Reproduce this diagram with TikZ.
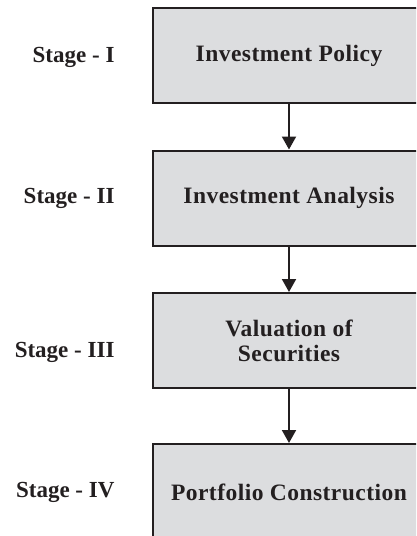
\documentclass[tikz,border=0pt]{standalone}
\usepackage{fontspec}
\setmainfont{Liberation Serif}
\newfontfamily\boxfont{Liberation Serif}[LetterSpace=2]
\usetikzlibrary{arrows.meta}
\definecolor{boxgray}{HTML}{DCDDDF}
\definecolor{ink}{HTML}{231F20}
\begin{document}
\begin{tikzpicture}[x=1pt, y=-1pt, >={Triangle[width=14pt,length=13pt]},
		stage/.style={anchor=east, text=ink, font=\bfseries\fontsize{23}{25}\selectfont},
		box/.style={draw=ink, line width=2pt, fill=boxgray, text=ink, align=center,
			minimum width=272pt, minimum height=95pt, font=\boxfont\bfseries\fontsize{23.5}{25}\selectfont}]
			\useasboundingbox (0,0) rectangle (416,536);
			\clip (0,0) rectangle (416,536);
			\node[box] (policy) at (289,55.5) {Investment Policy};
			\node[box] (analysis) at (289,198) {Investment Analysis};
			\node[box] (valuation) at (289,340.5) {Valuation of\\Securities};
			\node[box, minimum height=96pt] (construction) at (289,492) {Portfolio Construction};
			\draw[->, line width=2pt, draw=ink, fill=ink] (policy) -- (analysis);
			\draw[->, line width=2pt, draw=ink, fill=ink] (analysis) -- (valuation);
			\draw[->, line width=2pt, draw=ink, fill=ink] (valuation) -- (construction);
			\node[stage] (s1) at (118,57) {Stage - I};
			\node[stage] (s2) at (118,198) {Stage - II};
			\node[stage] (s3) at (118,352) {Stage - III};
			\node[stage] (s4) at (118,492) {Stage - IV};
		\end{tikzpicture}
\end{document}
